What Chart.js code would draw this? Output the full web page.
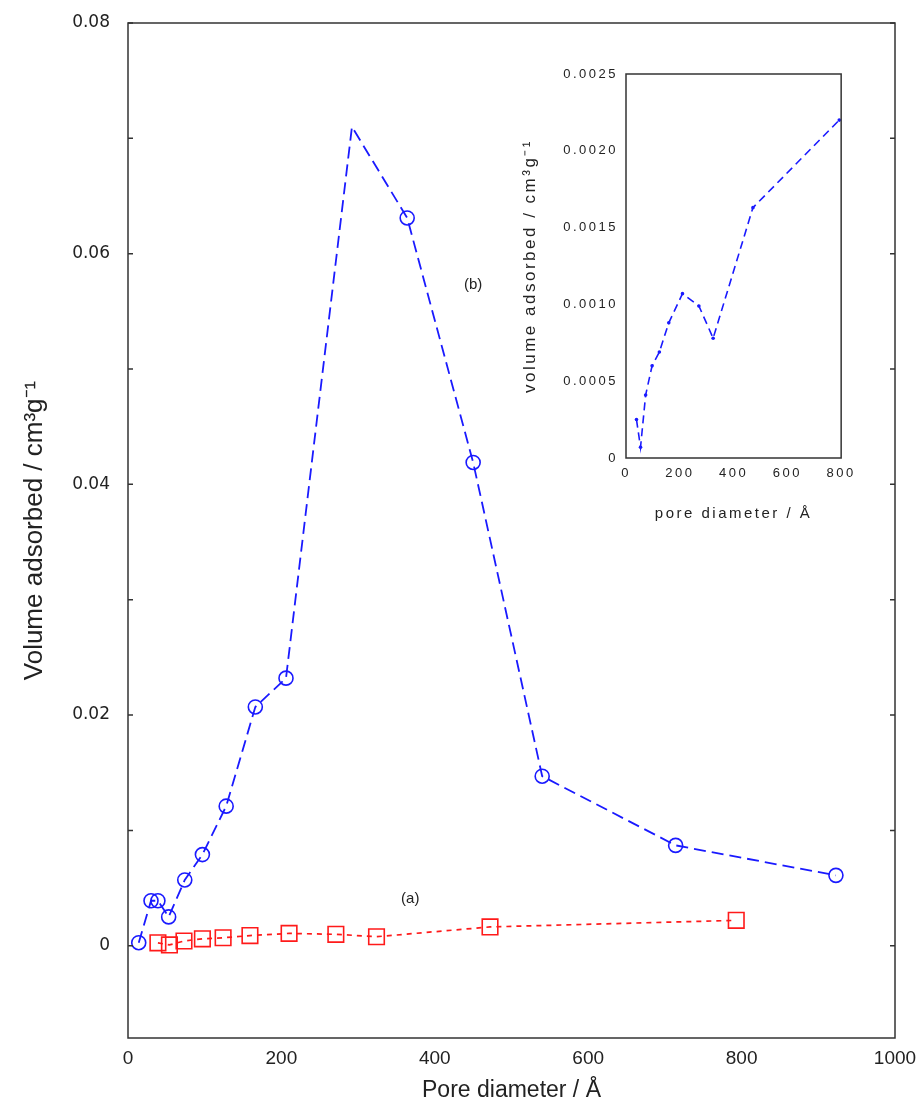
<!DOCTYPE html>
<html>
<head>
<meta charset="utf-8">
<script src="https://cdn.jsdelivr.net/npm/chart.js@4.4.0/dist/chart.umd.min.js"></script>
<style>
  html, body { margin: 0; padding: 0; background: #fff; }
  #wrap { position: relative; width: 923px; height: 1107px; }
  #mainBox { position: absolute; left: 0; top: 0; }
  #insetBox { position: absolute; left: 500px; top: 55px; }
</style>
</head>
<body>
<div id="wrap">
  <div id="mainBox"><canvas id="mainChart" width="923" height="1107"></canvas></div>
  <div id="insetBox"><canvas id="insetChart" width="360" height="480"></canvas></div>
</div>
<script>
// (b) series - blue circles
const poreB = [14, 30, 39, 53, 74, 97, 128, 166, 206, 292, 364, 450, 540, 714, 923];
const volB  = [0.00026, 0.0039, 0.0039, 0.0025, 0.0057, 0.0079, 0.0121, 0.0207, 0.0232, 0.0710, 0.0631, 0.0419, 0.0147, 0.0087, 0.0061];
const markB = [1, 1, 1, 1, 1, 1, 1, 1, 1, 0, 1, 1, 1, 1, 1]; // peak has no marker

// (a) series - red squares (also the inset)
const poreA = [39, 54, 73, 97, 124, 159, 210, 271, 324, 472, 793];
const volA  = [0.00025, 0.00007, 0.00041, 0.00060, 0.00069, 0.00088, 0.00107, 0.00099, 0.00078, 0.00163, 0.00220];

// axis ticks
const mainXTicks = [0, 200, 400, 600, 800, 1000];
const mainXLabels = ['0', '200', '400', '600', '800', '1000'];
const mainYTicks = [0, 0.02, 0.04, 0.06, 0.08];
const mainYLabels = ['0', '0.02', '0.04', '0.06', '0.08'];
const mainYMinor = [0.01, 0.03, 0.05, 0.07];
const insetXTicks = [0, 200, 400, 600, 800];
const insetXLabels = ['0', '200', '400', '600', '800'];
const insetYTicks = [0, 0.0005, 0.0010, 0.0015, 0.0020, 0.0025];
const insetYLabels = ['0', '0.0005', '0.0010', '0.0015', '0.0020', '0.0025'];

// curve labels
const noteText = ['(a)', '(b)'];
const noteX = [368, 450];
const noteY = [0.0041, 0.0573];

const toPoints = (xs, ys) => xs.map((x, i) => ({ x: x, y: ys[i] }));

// frame + inward ticks + notes
const framePlugin = {
    id: 'frame',
    afterDraw(chart, args, opts) {
        const ctx = chart.ctx;
        const a = chart.chartArea;
        ctx.save();
        ctx.strokeStyle = '#333';
        ctx.lineWidth = 1.5;
        ctx.strokeRect(a.left, a.top, a.right - a.left, a.bottom - a.top);
        const y = chart.scales.y;
        (opts.ticks || []).forEach(v => {
            const py = y.getPixelForValue(v);
            ctx.beginPath();
            ctx.moveTo(a.left, py); ctx.lineTo(a.left + 5, py);
            ctx.moveTo(a.right, py); ctx.lineTo(a.right - 5, py);
            ctx.stroke();
        });
        if (opts.notes) {
            ctx.fillStyle = '#222';
            ctx.font = '15px "Liberation Sans"';
            ctx.textAlign = 'center';
            ctx.textBaseline = 'middle';
            noteText.forEach((t, i) => {
                ctx.fillText(t, chart.scales.x.getPixelForValue(noteX[i]), y.getPixelForValue(noteY[i]));
            });
        }
        ctx.restore();
    }
};

const spacingPlugin = {
    id: 'spacing',
    beforeDraw(chart, args, opts) {
        chart.ctx.letterSpacing = opts.value || '0px';
    }
};

// Main chart
new Chart(document.getElementById('mainChart').getContext('2d'), {
    type: 'scatter',
    data: {
        datasets: [{
            label: '(b)',
            data: toPoints(poreB, volB),
            showLine: true,
            borderColor: '#1a1aff',
            borderWidth: 1.8,
            borderDash: [12, 6],
            pointStyle: 'circle',
            pointRadius: markB.map(m => m ? 7 : 0),
            pointBorderWidth: 1.6,
            pointBorderColor: '#1a1aff',
            pointBackgroundColor: 'rgba(0,0,0,0)'
        }, {
            label: '(a)',
            data: toPoints(poreA, volA),
            showLine: true,
            borderColor: '#ff1a1a',
            borderWidth: 1.7,
            borderDash: [5, 5],
            pointStyle: 'rect',
            pointRadius: 11,
            pointBorderWidth: 1.6,
            pointBorderColor: '#ff1a1a',
            pointBackgroundColor: 'rgba(0,0,0,0)'
        }]
    },
    options: {
        responsive: false,
        animation: false,
        layout: { padding: { top: 23, right: 28, left: 0, bottom: 0 } },
        plugins: {
            legend: { display: false },
            tooltip: { enabled: false },
            frame: { ticks: mainYTicks.concat(mainYMinor), notes: true }
        },
        scales: {
            x: {
                type: 'linear',
                min: 0, max: 1000,
                afterBuildTicks: s => { s.ticks = mainXTicks.map(v => ({ value: v })); },
                afterFit: s => { s.height = 69; s.paddingLeft = 0; s.paddingRight = 0; },
                grid: { display: false, drawTicks: false },
                border: { display: false },
                ticks: { color: '#222', padding: 9, maxRotation: 0, autoSkip: false,
                         font: { family: 'Liberation Sans', size: 19 },
                         callback: (v, i) => mainXLabels[i] },
                title: { display: true, text: 'Pore diameter / Å', color: '#222', padding: 3,
                         font: { family: 'Liberation Sans', size: 23 } }
            },
            y: {
                type: 'linear',
                min: -0.008, max: 0.08,
                afterBuildTicks: s => { s.ticks = mainYTicks.map(v => ({ value: v })); },
                afterFit: s => { s.width = 128; s.paddingTop = 0; s.paddingBottom = 0; },
                grid: { display: false, drawTicks: false },
                border: { display: false },
                ticks: { color: '#222', padding: 18, autoSkip: false,
                         font: { family: 'DejaVu Sans', size: 17 },
                         callback: (v, i) => mainYLabels[i] },
                title: { display: true, text: 'Volume adsorbed / cm³g⁻¹', color: '#222', padding: 19,
                         font: { family: 'Liberation Sans', size: 26 } }
            }
        }
    },
    plugins: [framePlugin]
});

// Inset chart
new Chart(document.getElementById('insetChart').getContext('2d'), {
    type: 'scatter',
    data: {
        datasets: [{
            label: 'inset',
            data: toPoints(poreA, volA),
            showLine: true,
            borderColor: '#1a1aff',
            borderWidth: 1.6,
            borderDash: [8, 5],
            pointRadius: 1.8,
            pointBorderWidth: 0,
            pointBackgroundColor: '#1a1aff'
        }]
    },
    options: {
        responsive: false,
        animation: false,
        layout: { padding: { top: 19, right: 18, left: 0, bottom: 0 } },
        plugins: {
            legend: { display: false },
            tooltip: { enabled: false },
            frame: { ticks: [], notes: false },
            spacing: { value: '2.5px' }
        },
        scales: {
            x: {
                type: 'linear',
                min: 0, max: 800,
                afterBuildTicks: s => { s.ticks = insetXTicks.map(v => ({ value: v })); },
                afterFit: s => { s.height = 77; },
                grid: { display: false, drawTicks: false },
                border: { display: false },
                ticks: { color: '#222', padding: 8, maxRotation: 0, autoSkip: false,
                         font: { family: 'Liberation Sans', size: 13 },
                         callback: (v, i) => insetXLabels[i] },
                title: { display: true, text: 'pore diameter / Å', color: '#222', padding: 12,
                         font: { family: 'Liberation Sans', size: 15 } }
            },
            y: {
                type: 'linear',
                min: 0, max: 0.0025,
                afterBuildTicks: s => { s.ticks = insetYTicks.map(v => ({ value: v })); },
                afterFit: s => { s.width = 126; },
                grid: { display: false, drawTicks: false },
                border: { display: false },
                ticks: { color: '#222', padding: 8, autoSkip: false,
                         font: { family: 'Liberation Sans', size: 13 },
                         callback: (v, i) => insetYLabels[i] },
                title: { display: true, text: 'volume adsorbed / cm³g⁻¹', color: '#222', padding: 20,
                         font: { family: 'Liberation Sans', size: 17 } }
            }
        }
    },
    plugins: [framePlugin, spacingPlugin]
});
</script>
</body>
</html>
